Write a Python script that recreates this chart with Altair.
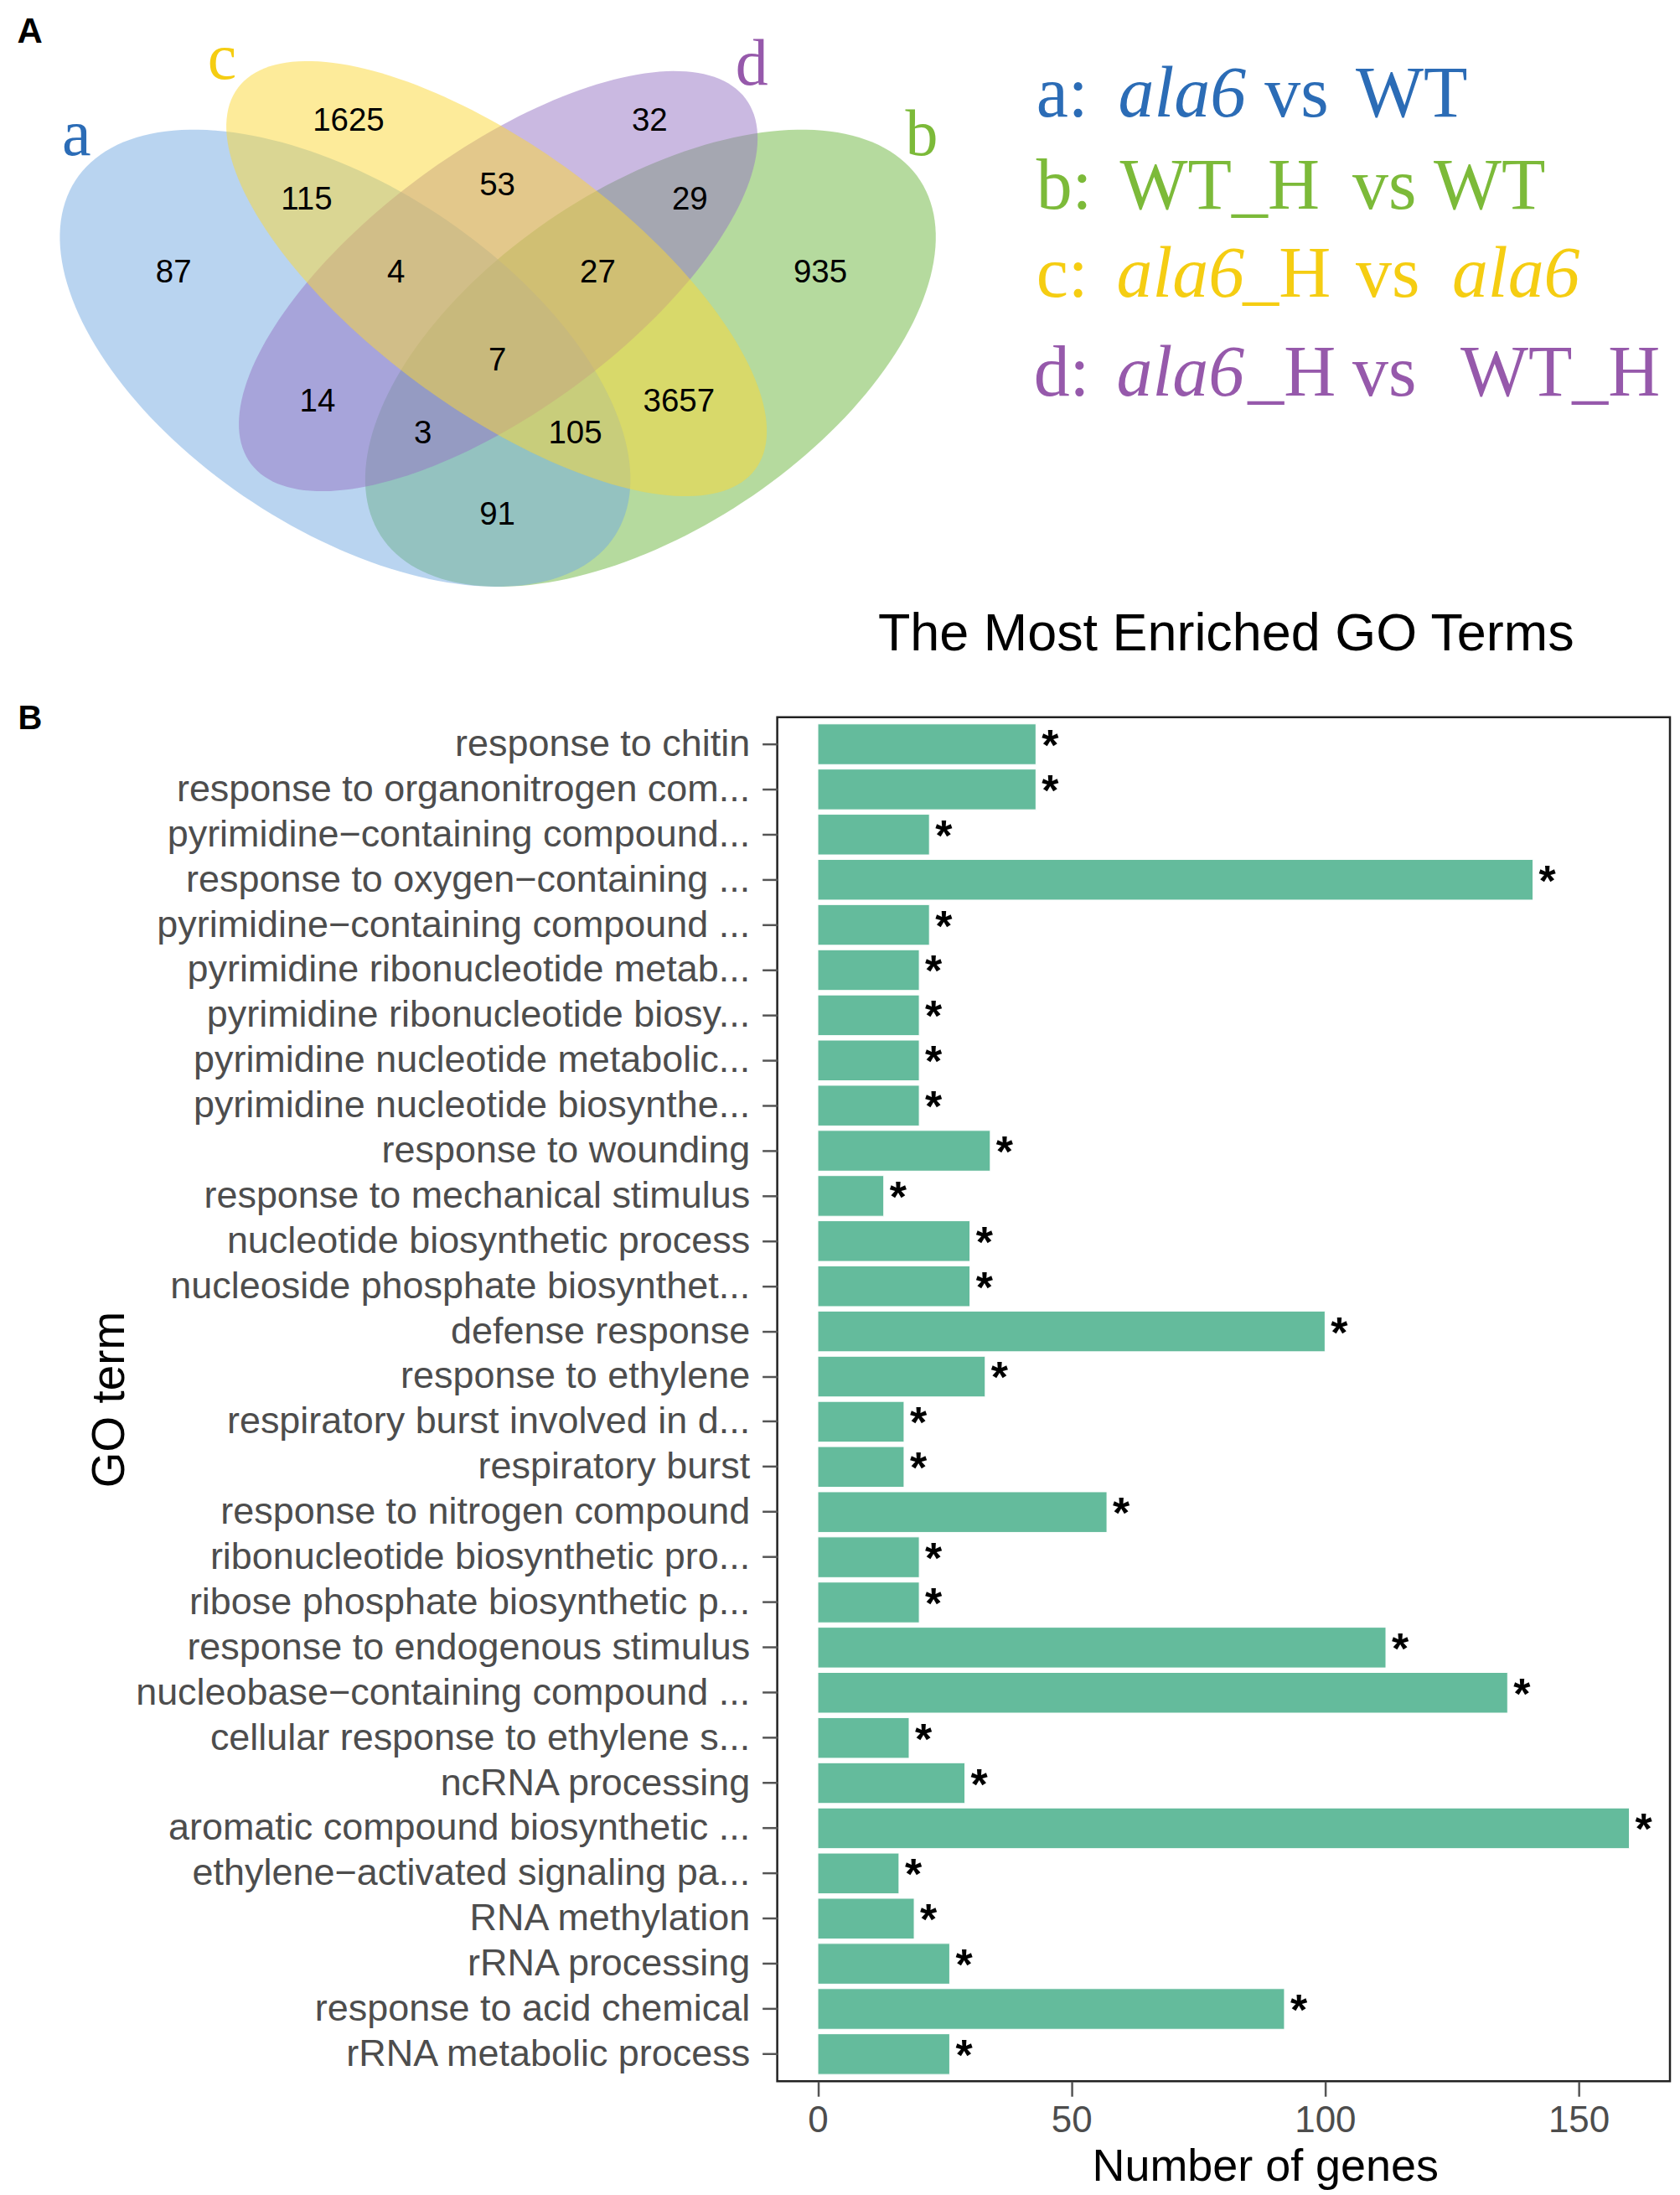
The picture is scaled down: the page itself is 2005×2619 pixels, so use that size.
import altair as alt
import numpy as np
import pandas as pd

# ---------------- data ----------------
venn_counts = [87, 1625, 32, 935, 115, 53, 29, 4, 27, 7, 14, 3657, 3, 105, 91]
venn_sets = ["a", "b", "c", "d"]
venn_set_names = [
    [("a:", "n"), ("ala6", "i"), ("vs", "n"), ("WT", "n")],
    [("b:", "n"), ("WT_H", "n"), ("vs", "n"), ("WT", "n")],
    [("c:", "n"), ("ala6", "i"), ("_H", "n"), ("vs", "n"), ("ala6", "i")],
    [("d:", "n"), ("ala6", "i"), ("_H", "n"), ("vs", "n"), ("WT_H", "n")],
]

go_terms = [
    "response to chitin",
    "response to organonitrogen com...",
    "pyrimidine\u2212containing compound...",
    "response to oxygen\u2212containing ...",
    "pyrimidine\u2212containing compound ...",
    "pyrimidine ribonucleotide metab...",
    "pyrimidine ribonucleotide biosy...",
    "pyrimidine nucleotide metabolic...",
    "pyrimidine nucleotide biosynthe...",
    "response to wounding",
    "response to mechanical stimulus",
    "nucleotide biosynthetic process",
    "nucleoside phosphate biosynthet...",
    "defense response",
    "response to ethylene",
    "respiratory burst involved in d...",
    "respiratory burst",
    "response to nitrogen compound",
    "ribonucleotide biosynthetic pro...",
    "ribose phosphate biosynthetic p...",
    "response to endogenous stimulus",
    "nucleobase\u2212containing compound ...",
    "cellular response to ethylene s...",
    "ncRNA processing",
    "aromatic compound biosynthetic ...",
    "ethylene\u2212activated signaling pa...",
    "RNA methylation",
    "rRNA processing",
    "response to acid chemical",
    "rRNA metabolic process",
]
gene_counts = [43, 43, 22, 141, 22, 20, 20, 20, 20, 34, 13, 30, 30, 100, 33,
               17, 17, 57, 20, 20, 112, 136, 18, 29, 160, 16, 19, 26, 92, 26]
significance = ["*", "*", "*", "*", "*", "*", "*", "*", "*", "*",
                "*", "*", "*", "*", "*", "*", "*", "*", "*", "*",
                "*", "*", "*", "*", "*", "*", "*", "*", "*", "*"]

# ---------------- layout / style (image pixel coordinates) ----------------
SANS = "Liberation Sans"
SERIF = "Liberation Serif"
SET_COLORS = {"a": "#2B6CB6", "b": "#7CBA39", "c": "#F5CD12", "d": "#9659AB"}
FILL_COLORS = {"a": "#73AAE1", "b": "#6BB53D", "c": "#FBD735", "d": "#9673C3"}
BAR_COLOR = "#64BB9C"

PLOT_LEFT = 927.5           # image x of the bar panel's left edge (shared by both rows)
PLOT_TOP = 852              # image y of the bar panel's top edge
GUARD = 30                  # space reserved above the bar panel (for the "B" tag)
W_TOP = 1998 - PLOT_LEFT
H_TOP = PLOT_TOP - GUARD - 0.5 - 8
X_DOM, Y_DOM = [PLOT_LEFT, 1998], [8 + H_TOP, 8]
BAR_W, BAR_H = 1067, 1630

# ellipse geometry: centre, half extents, elongation, tilt direction
ELLIPSES = {
    "b": dict(cx=776, cy=425, W=341, H=273, k=0.53, s=-1),
    "a": dict(cx=411, cy=425, W=341, H=273, k=0.53, s=1),
    "d": dict(cx=594, cy=333, W=310, H=251, k=0.68, s=-1),
    "c": dict(cx=592, cy=330, W=323, H=260, k=0.70, s=1),
}
COUNT_POS = [(206, 321), (415, 139), (775, 139), (979, 321), (365, 233), (593, 216),
             (823, 233), (472, 321), (713, 321), (593, 426), (378, 475), (810, 475),
             (504, 513), (686, 513), (593, 610)]
SET_LABEL_POS = {"a": (90, 182), "b": (1100, 182), "c": (264, 91), "d": (897, 98)}
LEGEND_BASE = [136, 246, 352, 470]
LEGEND_X = [
    [1237, 1335, 1510, 1619],
    [1237, 1337, 1615, 1712],
    [1237, 1333, 1484, 1619, 1734],
    [1234, 1333, 1490, 1615, 1744],
]


def ellipse_path(W, H, k, s, n=180):
    """Outline of a tilted ellipse, in pixels relative to its centre."""
    a = np.sqrt((1 + k) / 2.0)
    b = np.sqrt((1 - k) / 2.0)
    t = np.linspace(0, 2 * np.pi, n, endpoint=False)
    px = W * (a * np.cos(t) - b * np.sin(t))
    py = s * H * (a * np.cos(t) + b * np.sin(t))
    pts = [f"{x:.2f},{y:.2f}" for x, y in zip(px, py)]
    return "M" + " L".join(pts) + " Z"


xs = alt.Scale(domain=X_DOM, nice=False, zero=False)
ys = alt.Scale(domain=Y_DOM, nice=False, zero=False)


def xy(xf="x", yf="y"):
    return dict(x=alt.X(f"{xf}:Q", scale=xs, axis=None),
                y=alt.Y(f"{yf}:Q", scale=ys, axis=None))


layers = []
for key in ["b", "a", "d", "c"]:
    e = ELLIPSES[key]
    df = pd.DataFrame({"x": [e["cx"]], "y": [e["cy"]]})
    layers.append(
        alt.Chart(df).mark_point(
            shape=ellipse_path(e["W"], e["H"], e["k"], e["s"]),
            size=4, filled=True, color=FILL_COLORS[key],
            opacity=0.5, strokeWidth=0,
        ).encode(**xy())
    )

count_df = pd.DataFrame({
    "x": [p[0] for p in COUNT_POS],
    "y": [p[1] + 2 for p in COUNT_POS],
    "label": [str(v) for v in venn_counts],
})
layers.append(
    alt.Chart(count_df).mark_text(font=SANS, fontSize=38.5, color="black",
                                  baseline="middle", align="center")
    .encode(text="label:N", **xy())
)

set_df = pd.DataFrame({
    "x": [SET_LABEL_POS[s][0] for s in venn_sets],
    "y": [SET_LABEL_POS[s][1] for s in venn_sets],
    "label": venn_sets,
    "col": [SET_COLORS[s] for s in venn_sets],
})
layers.append(
    alt.Chart(set_df).mark_text(font=SERIF, fontSize=78, baseline="alphabetic",
                                align="center")
    .encode(text="label:N", color=alt.Color("col:N", scale=None), **xy())
)

rows = []
for i, (segs, s) in enumerate(zip(venn_set_names, venn_sets)):
    for j, (txt, style) in enumerate(segs):
        rows.append(dict(x=LEGEND_X[i][j], y=LEGEND_BASE[i], label=txt,
                         style=style, col=SET_COLORS[s]))
leg_df = pd.DataFrame(rows)
for style, fs in [("n", "normal"), ("i", "italic")]:
    layers.append(
        alt.Chart(leg_df[leg_df["style"] == style]).mark_text(
            font=SERIF, fontSize=86, fontStyle=fs, baseline="alphabetic", align="left")
        .encode(text="label:N", color=alt.Color("col:N", scale=None), **xy())
    )

misc_df = pd.DataFrame({"x": [19, 1048], "y": [48, 774],
                        "label": ["A", "The Most Enriched GO Terms"]})
layers.append(
    alt.Chart(misc_df.iloc[[0]]).mark_text(font=SANS, fontSize=42, fontWeight="bold",
                                           baseline="alphabetic", align="left", color="black")
    .encode(text="label:N", **xy())
)
layers.append(
    alt.Chart(misc_df.iloc[[1]]).mark_text(font=SANS, fontSize=63,
                                           baseline="alphabetic", align="left", color="black")
    .encode(text="label:N", **xy())
)

top = alt.layer(*layers).properties(
    width=W_TOP, height=H_TOP,
    view=alt.ViewBackground(stroke="transparent"),
)

# ---------------- bar chart ----------------
bar_df = pd.DataFrame({"term": go_terms, "count": gene_counts, "sig": significance})

yenc = alt.Y(
    "term:N", sort=go_terms,
    scale=alt.Scale(paddingInner=0.1, paddingOuter=0.15),
    axis=alt.Axis(
        title="GO term", labelFont=SANS, labelFontSize=45, labelColor="#4d4d4d",
        labelLimit=1000, labelPadding=15, tickSize=18, tickWidth=2.5,
        tickColor="#555555", domain=False, grid=False,
        titleFont=SANS, titleFontSize=55, titleFontWeight="normal", titleColor="black",
        titleX=146 - PLOT_LEFT, titleY=BAR_H / 2, titleAngle=270, titleAlign="center",
        titleBaseline="alphabetic",
    ),
)
xenc = alt.X(
    "count:Q",
    scale=alt.Scale(domain=[-8, 168], nice=False, zero=False),
    axis=alt.Axis(
        values=[0, 50, 100, 150], title="Number of genes", labelFont=SANS,
        labelFontSize=44, labelColor="#4d4d4d", labelPadding=7, tickSize=18,
        tickWidth=2.5, tickColor="#555555", domain=False, grid=False,
        titleFont=SANS, titleFontSize=54, titleFontWeight="normal", titleColor="black",
        titleX=583, titleY=2600 - PLOT_TOP - BAR_H, titleAlign="center",
        titleBaseline="alphabetic",
    ),
)

bars = alt.Chart(bar_df).mark_bar(color=BAR_COLOR, stroke="white", strokeWidth=1).encode(
    x=xenc, x2=alt.datum(0), y=yenc
)
stars = alt.Chart(bar_df).mark_text(
    font=SANS, fontSize=52, fontWeight="bold", color="black",
    align="left", baseline="alphabetic", dx=7, dy=19,
).encode(x=xenc, y=yenc, text="sig:N")

b_label = alt.Chart(pd.DataFrame({"t": ["B"]})).mark_text(
    font=SANS, fontSize=40, fontWeight="bold", color="black",
    align="left", baseline="alphabetic",
).encode(x=alt.value(20 - PLOT_LEFT), y=alt.value(14), text="t:N")

guard = alt.Chart(pd.DataFrame({"t": [0]})).mark_rule(color="white", strokeWidth=1).encode(
    x=alt.value(8.5 - PLOT_LEFT), y=alt.value(-GUARD), y2=alt.value(-GUARD + 1)
)

bottom = alt.layer(guard, bars, stars, b_label).properties(
    width=BAR_W, height=BAR_H,
    view=alt.ViewBackground(stroke="#222222", strokeWidth=2.5),
)

chart = alt.vconcat(top, bottom, spacing=0).properties(
    padding=0, background="white"
)

chart.save("out.html", embed_options={"renderer": "svg", "actions": False})
